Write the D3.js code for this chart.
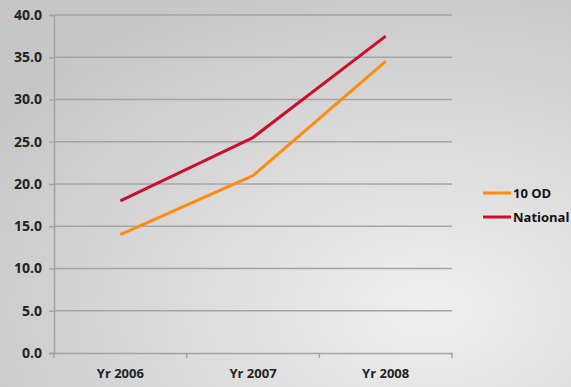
<!DOCTYPE html>
<html lang="en">
<head>
<meta charset="UTF-8" />
<title>10 OD vs National</title>
<script src="https://d3js.org/d3.v7.min.js"></script>
<style>
    body { margin: 0; }
    svg { display: block; font-family: "Open Sans", sans-serif; }
</style>
</head>
<body>
<svg id="chart" width="571" height="387"></svg>
<script>
const years = ["Yr 2006", "Yr 2007", "Yr 2008"];
const od10 = [14.0, 21.0, 34.5];
const national = [18.0, 25.5, 37.5];
const yTicks = [0, 5, 10, 15, 20, 25, 30, 35, 40];

const series = [
    { name: "10 OD", values: od10, color: "#ff8c0f" },
    { name: "National", values: national, color: "#c8102e" }
];

const svg = d3.select("#chart");
const W = 571, H = 387;

// background gradient
const defs = svg.append("defs");
const grad = defs.append("radialGradient")
    .attr("id", "bg")
    .attr("cx", "0.75").attr("cy", "0.8").attr("r", "0.9");
grad.append("stop").attr("offset", "0%").attr("stop-color", "#efefef");
grad.append("stop").attr("offset", "100%").attr("stop-color", "#c6c6c6");
svg.append("rect").attr("width", W).attr("height", H).attr("fill", "url(#bg)");

const plotLeft = 54, plotRight = 452, plotTop = 15, plotBottom = 353;

const x = d3.scaleBand().domain(years).range([plotLeft, plotRight]);
const y = d3.scaleLinear().domain([0, 40]).range([plotBottom, plotTop]);

// gridlines
svg.append("g")
    .selectAll("line")
    .data(yTicks.slice(1))
    .join("line")
    .attr("x1", plotLeft).attr("x2", plotRight)
    .attr("y1", d => y(d)).attr("y2", d => y(d))
    .attr("stroke", "#a3a3a3").attr("stroke-width", 1.5);

// y axis
const yAxis = svg.append("g")
    .attr("transform", `translate(${plotLeft},0)`)
    .call(d3.axisLeft(y).tickValues(yTicks).tickFormat(d3.format(".1f")).tickSize(5).tickPadding(7));
yAxis.select(".domain").attr("stroke", "#a3a3a3").attr("stroke-width", 1.5);
yAxis.selectAll(".tick line").attr("stroke", "#a3a3a3").attr("stroke-width", 1.5);
yAxis.selectAll("text")
    .attr("font-size", 14).attr("font-weight", "bold").attr("fill", "#222")
    .attr("font-family", "'Open Sans', sans-serif");

// x axis
const xAxis = svg.append("g")
    .attr("transform", `translate(0,${plotBottom})`)
    .call(d3.axisBottom(x).tickSize(0).tickPadding(16));
xAxis.select(".domain").attr("stroke", "#a3a3a3").attr("stroke-width", 1.5);
xAxis.selectAll("text")
    .attr("font-size", 13).attr("font-weight", "bold").attr("fill", "#222")
    .attr("font-family", "'Open Sans', sans-serif");
// boundary ticks between categories
svg.append("g")
    .selectAll("line")
    .data(years.map(d => x(d)).concat([plotRight]))
    .join("line")
    .attr("x1", d => d).attr("x2", d => d)
    .attr("y1", plotBottom).attr("y2", plotBottom + 5)
    .attr("stroke", "#a3a3a3").attr("stroke-width", 1.5);

// lines
const line = d3.line()
    .x((d, i) => x(years[i]) + x.bandwidth() / 2)
    .y(d => y(d));

svg.append("g")
    .selectAll("path")
    .data(series)
    .join("path")
    .attr("d", d => line(d.values))
    .attr("fill", "none")
    .attr("stroke", d => d.color)
    .attr("stroke-width", 3)
    .attr("stroke-linejoin", "round");

// legend
const legend = svg.append("g")
    .selectAll("g")
    .data(series)
    .join("g")
    .attr("transform", (d, i) => `translate(483,${193 + i * 24})`);
legend.append("line")
    .attr("x1", 0).attr("x2", 28)
    .attr("stroke", d => d.color).attr("stroke-width", 3);
legend.append("text")
    .attr("x", 30).attr("y", 5)
    .attr("font-size", 13).attr("font-weight", "bold").attr("fill", "#111")
    .text(d => d.name);
</script>
</body>
</html>
